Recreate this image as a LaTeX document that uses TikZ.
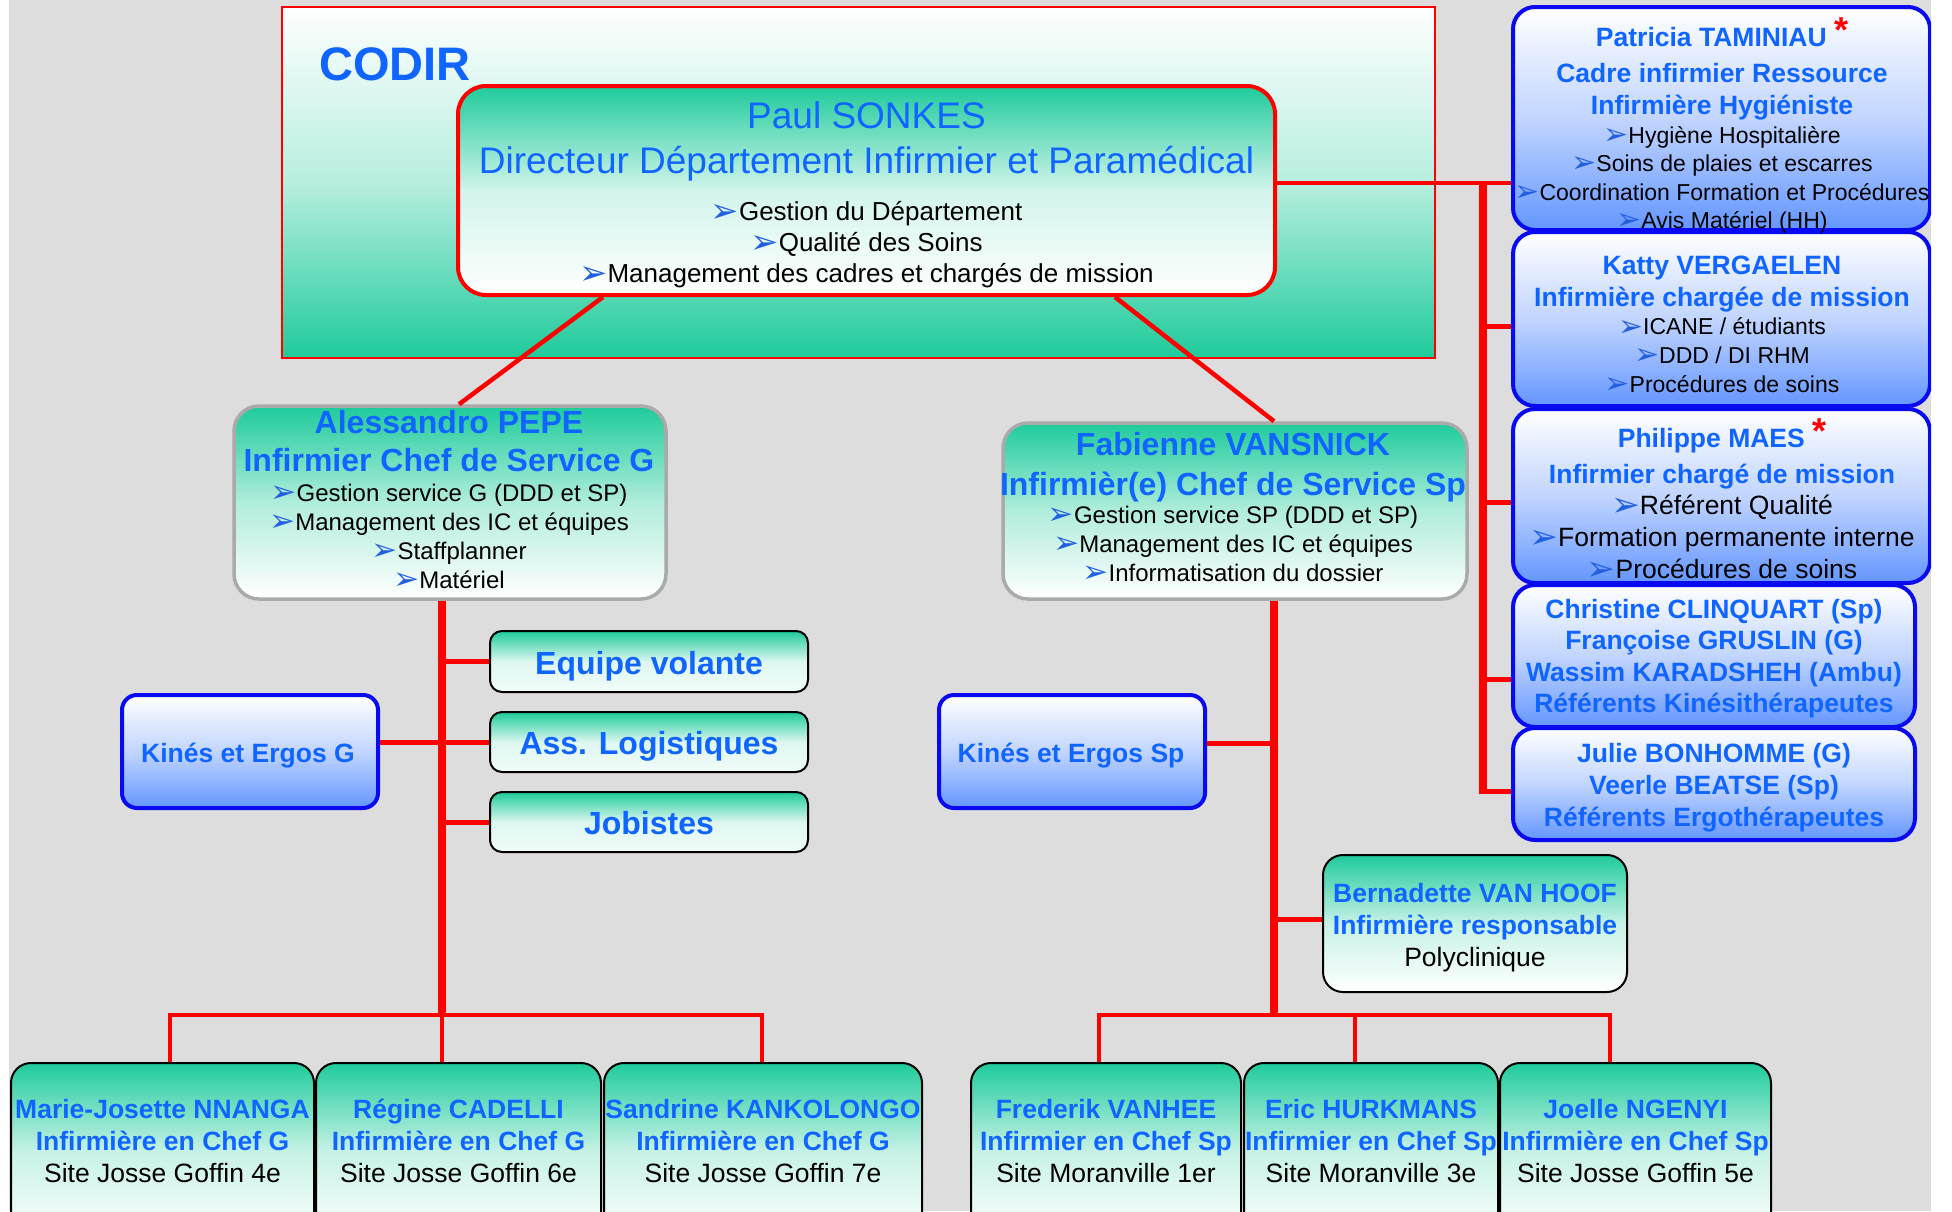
\documentclass[tikz,border=0pt]{standalone}
\usepackage{fontspec}
\setmainfont{Liberation Sans}
\newfontfamily\dingfont{DejaVu Sans}
\usetikzlibrary{positioning}

\definecolor{fondgris}{RGB}{221,221,221}
\definecolor{vertcodir}{RGB}{30,203,155}
\definecolor{bleutexte}{RGB}{16,100,255}
\definecolor{bleucadre}{RGB}{10,10,240}
\definecolor{bleufond}{RGB}{100,150,255}
\definecolor{bleupuce}{RGB}{35,95,225}
\definecolor{griscadre}{RGB}{170,170,170}

\newcommand{\puce}{{\dingfont\color{bleupuce}\raisebox{-0.05em}{\scalebox{1.3}{\char"27A2}}}}
\newcommand{\nom}[2]{{\fontsize{#1}{#1}\selectfont\bfseries\color{bleutexte}#2}}
\newcommand{\bleu}[2]{{\fontsize{#1}{#1}\selectfont\color{bleutexte}#2}}
\newcommand{\noir}[2]{{\fontsize{#1}{#1}\selectfont #2}}
\newcommand{\lig}[2]{{\fontsize{#1}{#1}\selectfont\puce#2}}
\newcommand{\etoile}{{\fontsize{36}{36}\selectfont\color{red}\raisebox{4pt}{*}}}

\tikzset{
  codir/.style={draw=red, line width=2pt, top color=white, bottom color=vertcodir, middle color=vertcodir!32!white},
  direction/.style={draw=red, line width=4pt, rounded corners=28pt, inner sep=0pt, top color=vertcodir, bottom color=white, middle color=vertcodir!20!white},
  chef/.style={draw=griscadre, line width=3.5pt, rounded corners=25pt, inner sep=0pt, top color=vertcodir, bottom color=white, middle color=vertcodir!35!white},
  mission/.style={draw=bleucadre, line width=4pt, rounded corners=22pt, inner sep=0pt, top color=white, bottom color=bleufond, middle color=bleufond!40!white},
  equipe/.style={draw=black, line width=2pt, rounded corners=12pt, inner sep=0pt, top color=vertcodir, bottom color=white!94!vertcodir, middle color=vertcodir!15!white},
  site/.style={draw=black, line width=2pt, rounded corners=20pt, inner sep=0pt, top color=vertcodir, bottom color=white, middle color=vertcodir!25!white},
  texte/.style={anchor=north, inner sep=0pt, align=center},
  interligne/.style={font=\fontsize{10}{#1}\selectfont},
  lien/.style={red, line width=4.5pt},
  tronc/.style={red, line width=8pt},
  branche/.style={red, line width=5pt},
}

\begin{document}
\begin{tikzpicture}[x=1pt, y=-1pt]
  \fill[white] (0,0) rectangle (1952,1211);
  \useasboundingbox (0,0) rectangle (1952,1211);
  \clip (9,0) rectangle (1931,1211);
  \fill[fondgris] (9,0) rectangle (1931,1211);

  % CODIR
  \draw[codir] (282,7) rectangle (1435,358);
  \node[anchor=base west, inner sep=0pt, font=\fontsize{47}{47}\selectfont\bfseries, text=bleutexte] (codir-titre) at (319,80) {CODIR};

  % cadres
  \node[direction, minimum width=817pt, minimum height=209pt] (main) at (866.5,190.5) {};
  \node[chef, minimum width=432pt, minimum height=193pt] (pepe) at (450,502.5) {};
  \node[chef, minimum width=464pt, minimum height=176pt] (vans) at (1235,511) {};

  \node[mission, minimum width=417pt, minimum height=223pt] (tam) at (1721.5,118.5) {};
  \node[mission, minimum width=417pt, minimum height=174pt] (katty) at (1721.5,319) {};
  \node[mission, minimum width=417pt, minimum height=174pt] (maes) at (1721.5,496) {};
  \node[mission, minimum width=402pt, minimum height=142pt] (clinq) at (1714,656) {};
  \node[mission, minimum width=402pt, minimum height=112pt] (bonh) at (1714,784) {};

  \node[mission, rounded corners=15pt, minimum width=256pt, minimum height=113pt] (kineg) at (250,751.5) {};
  \node[mission, rounded corners=15pt, minimum width=266pt, minimum height=113pt] (kinesp) at (1072,751.5) {};

  \node[equipe, minimum width=318pt, minimum height=61pt] (equipe) at (649,661.5) {};
  \node[equipe, minimum width=318pt, minimum height=60pt] (logist) at (649,742) {};
  \node[equipe, minimum width=318pt, minimum height=60pt] (jobist) at (649,822) {};

  \node[site, minimum width=304pt, minimum height=137pt] (vhoof) at (1475,923.5) {};

  \node[site, minimum width=303pt, minimum height=177pt] (nnanga) at (162.5,1151.5) {};
  \node[site, minimum width=285pt, minimum height=177pt] (cadelli) at (458.5,1151.5) {};
  \node[site, minimum width=318pt, minimum height=177pt] (kank) at (763,1151.5) {};
  \node[site, minimum width=270pt, minimum height=177pt] (vanhee) at (1106,1151.5) {};
  \node[site, minimum width=254pt, minimum height=177pt] (hurk) at (1371,1151.5) {};
  \node[site, minimum width=271pt, minimum height=177pt] (ngenyi) at (1635.5,1151.5) {};

  % liens direction
  \draw[lien] ([xshift=-263.5pt]main.south) -- ([xshift=9pt]pepe.north);
  \draw[lien] ([xshift=248.5pt]main.south) -- ([xshift=39pt]vans.north);

  \coordinate (m1) at ([yshift=7.5pt]main.east);
  \coordinate (rtop) at (1483,181);
  \coordinate (rbas) at (1483,791);
  \draw[lien] (m1) -- (m1 -| tam.west);
  \draw[red, line width=8.5pt] (rtop) -- (rbas);
  \coordinate (r2) at (1483,326);
  \coordinate (r3) at (1483,502.5);
  \coordinate (r4) at (1483,679);
  \draw[branche] (r2) -- (r2 -| katty.west);
  \draw[branche] (r3) -- (r3 -| maes.west);
  \draw[branche] (r4) -- (r4 -| clinq.west);
  \draw[branche] ([xshift=-4.25pt]rbas) -- (rbas -| bonh.west);

  % service G
  \coordinate (gbas) at (442,1015);
  \draw[tronc] (pepe.south -| gbas) -- (gbas);
  \draw[branche] (gbas |- equipe.west) -- (equipe.west);
  \draw[branche] (kineg.east |- logist.west) -- (logist.west);
  \draw[branche] (gbas |- jobist.west) -- (jobist.west);
  \coordinate (g1) at ([xshift=7.5pt]nnanga.north);
  \coordinate (g3) at ([xshift=-1pt]kank.north);
  \draw[lien] (g1) |- (g3 |- gbas) -- (g3);
  \draw[lien] (cadelli.north -| gbas) -- (gbas);

  % service Sp
  \coordinate (sbas) at (1274,1015);
  \draw[tronc] (vans.south -| sbas) -- (sbas);
  \coordinate (k1) at ([yshift=8.5pt]kinesp.east);
  \draw[branche] (k1) -- (k1 -| sbas);
  \coordinate (v1) at ([yshift=4.5pt]vhoof.west);
  \draw[branche] (v1 -| sbas) -- (v1);
  \coordinate (s1) at ([xshift=-7pt]vanhee.north);
  \coordinate (s2) at ([xshift=-16pt]hurk.north);
  \coordinate (s3) at ([xshift=-25.5pt]ngenyi.north);
  \draw[lien] (s1) |- (s3 |- sbas) -- (s3);
  \draw[lien] (s2) -- (s2 |- sbas);

  % textes
  \node[texte, interligne=31] (main-txt) at (866.5,98.5) {\rule{0pt}{30pt}\bleu{37}{Paul SONKES}\\[14pt]
    \bleu{37}{Directeur Département Infirmier et Paramédical}\\[16pt]
    \lig{26}{Gestion du Département}\\ \lig{26}{Qualité des Soins}\\
    \lig{26}{Management des cadres et chargés de mission}};

  \node[texte, interligne=29] (pepe-txt) at (449,403) {\rule{0pt}{30pt}\nom{32}{Alessandro PEPE}\\[9pt]
    \nom{32}{Infirmier Chef de Service G}\\[1pt]
    \lig{24}{Gestion service G (DDD et SP)}\\ \lig{24}{Management des IC et équipes}\\
    \lig{24}{Staffplanner}\\ \lig{24}{Matériel}};

  \node[texte, interligne=29] (vans-txt) at (1233,425.5) {\rule{0pt}{30pt}\nom{32}{Fabienne VANSNICK}\\[10.5pt]
    \nom{32}{Infirmièr(e) Chef de Service Sp}\\[-1pt]
    \lig{24}{Gestion service SP (DDD et SP)}\\ \lig{24}{Management des IC et équipes}\\
    \lig{24}{Informatisation du dossier}};

  \node[texte, interligne=28.5] (tam-txt) at (1722,16.5) {\rule{0pt}{30pt}\nom{26.5}{Patricia TAMINIAU \etoile}\\[7.5pt]
    \nom{26.5}{Cadre infirmier Ressource}\\[3pt]
    \nom{26.5}{Infirmière Hygiéniste}\\[0.5pt]
    \lig{23}{Hygiène Hospitalière}\\ \lig{23}{Soins de plaies et escarres}\\
    \lig{23}{Coordination Formation et Procédures}\\ \lig{23}{Avis Matériel (HH)}};

  \node[texte, interligne=28.75] (katty-txt) at (1722,244) {\rule{0pt}{30pt}\nom{26.5}{Katty VERGAELEN}\\[3.25pt]
    \nom{26.5}{Infirmière chargée de mission}\\
    \lig{23}{ICANE / étudiants}\\ \lig{23}{DDD / DI RHM}\\ \lig{23}{Procédures de soins}};

  \node[texte, interligne=32] (maes-txt) at (1722,417) {\rule{0pt}{30pt}\nom{26.5}{Philippe MAES \etoile}\\[4.5pt]
    \nom{26.5}{Infirmier chargé de mission}\\[-1pt]
    \lig{26.5}{Référent Qualité}\\ \lig{26.5}{Formation permanente interne}\\
    \lig{26.5}{Procédures de soins}};

  \node[texte, interligne=31.5] (clinq-txt) at (1714,588) {\rule{0pt}{30pt}\nom{26.5}{Christine CLINQUART (Sp)}\\
    \nom{26.5}{Françoise GRUSLIN (G)}\\ \nom{26.5}{Wassim KARADSHEH (Ambu)}\\
    \nom{26.5}{Référents Kinésithérapeutes}};

  \node[texte, interligne=32] (bonh-txt) at (1714,732) {\rule{0pt}{30pt}\nom{26.5}{Julie BONHOMME (G)}\\
    \nom{26.5}{Veerle BEATSE (Sp)}\\ \nom{26.5}{Référents Ergothérapeutes}};

  \node[texte] (kineg-txt) at (248,732.5) {\rule{0pt}{30pt}\nom{26.5}{Kinés et Ergos G}};
  \node[texte] (kinesp-txt) at (1071,732.5) {\rule{0pt}{30pt}\nom{26.5}{Kinés et Ergos Sp}};

  \node[texte] (equipe-txt) at (649,644) {\rule{0pt}{30pt}\nom{32}{Equipe volante}};
  \node[texte] (logist-txt) at (649,724) {\rule{0pt}{30pt}\nom{32}{Ass. Logistiques}};
  \node[texte] (jobist-txt) at (649,804) {\rule{0pt}{30pt}\nom{32}{Jobistes}};

  \node[texte, interligne=32] (vhoof-txt) at (1475,872.5) {\rule{0pt}{30pt}\nom{26.5}{Bernadette VAN HOOF}\\
    \nom{26.5}{Infirmière responsable}\\ \noir{26.5}{Polyclinique}};

  \node[texte, interligne=32] (nnanga-txt) at (162.5,1088) {\rule{0pt}{30pt}\nom{26.5}{Marie-Josette NNANGA}\\
    \nom{26.5}{Infirmière en Chef G}\\ \noir{26.5}{Site Josse Goffin 4e}};
  \node[texte, interligne=32] (cadelli-txt) at (458.5,1088) {\rule{0pt}{30pt}\nom{26.5}{Régine CADELLI}\\
    \nom{26.5}{Infirmière en Chef G}\\ \noir{26.5}{Site Josse Goffin 6e}};
  \node[texte, interligne=32] (kank-txt) at (763,1088) {\rule{0pt}{30pt}\nom{26.5}{Sandrine KANKOLONGO}\\
    \nom{26.5}{Infirmière en Chef G}\\ \noir{26.5}{Site Josse Goffin 7e}};
  \node[texte, interligne=32] (vanhee-txt) at (1106,1088) {\rule{0pt}{30pt}\nom{26.5}{Frederik VANHEE}\\
    \nom{26.5}{Infirmier en Chef Sp}\\ \noir{26.5}{Site Moranville 1er}};
  \node[texte, interligne=32] (hurk-txt) at (1371,1088) {\rule{0pt}{30pt}\nom{26.5}{Eric HURKMANS}\\
    \nom{26.5}{Infirmier en Chef Sp}\\ \noir{26.5}{Site Moranville 3e}};
  \node[texte, interligne=32] (ngenyi-txt) at (1635.5,1088) {\rule{0pt}{30pt}\nom{26.5}{Joelle NGENYI}\\
    \nom{26.5}{Infirmière en Chef Sp}\\ \noir{26.5}{Site Josse Goffin 5e}};
\end{tikzpicture}
\end{document}
